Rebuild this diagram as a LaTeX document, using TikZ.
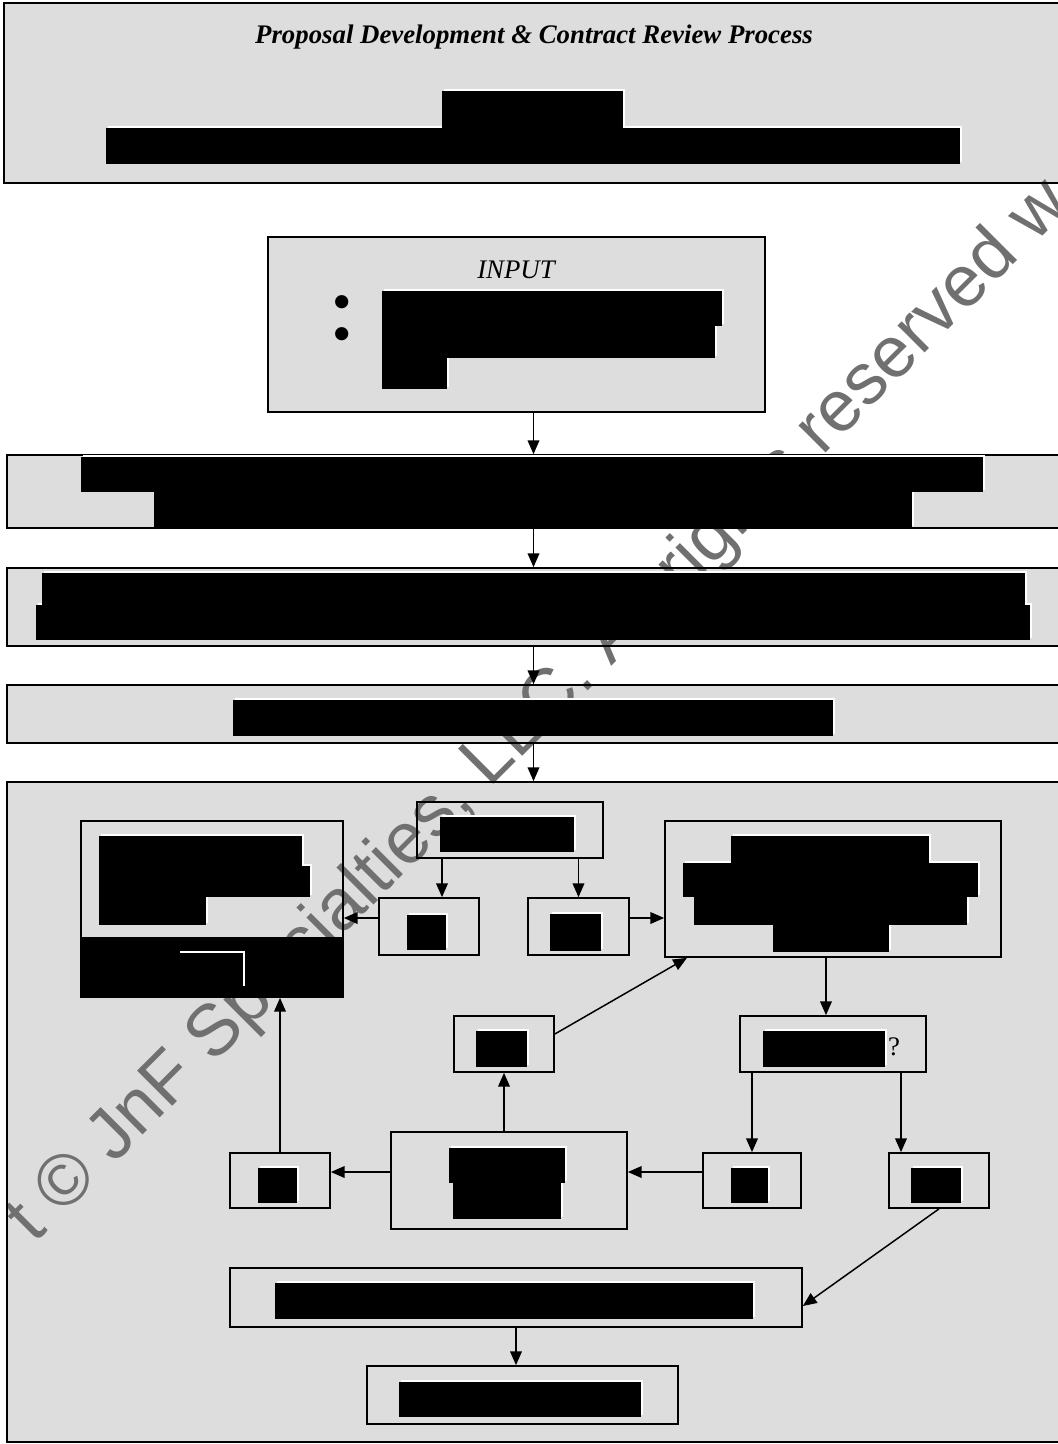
\documentclass[tikz,border=0pt]{standalone}
\usepackage{fontspec}
\setmainfont{Liberation Serif}
\newfontfamily\wmfont{Liberation Sans}
\usetikzlibrary{arrows.meta, fit, backgrounds}
\definecolor{boxgray}{RGB}{221,221,221}
\definecolor{markgray}{RGB}{112,112,112}
\pgfdeclarelayer{background}
\pgfdeclarelayer{wmark}
\pgfsetlayers{background,wmark,main}
% blacked-out text line, with its thin white edge
\newcommand{\redact}[4]{%
  \fill[white] (#1+2,#2-2) rectangle (#3+2,#4-2);
  \fill[black] (#1,#2) rectangle (#3,#4);}

\begin{document}
\begin{tikzpicture}[x=0.47pt, y=-0.47pt,
  box/.style={draw, line width=0.8pt, inner sep=0pt},
  arr/.style={-{Triangle[length=6.5pt, width=5.5pt]}, line width=0.7pt},
  every node/.style={font=\fontsize{12.6pt}{14pt}\selectfont}]
  \useasboundingbox (0,0) rectangle (1057,1444);

  % header
  \node[box, fit={(4,3) (1060,183)}] (hdr) {};
  \node[font=\fontsize{12.6pt}{14pt}\selectfont\bfseries\itshape] (title) at (534,37)
    {Proposal Development \& Contract Review Process};
  \redact{106}{128}{960}{164}
  \redact{442}{91}{623}{128}

  % input
  \node[box, fit={(268,237) (765,412)}] (inp) {};
  \node (inlabel) at (516,270) {\itshape INPUT};
  \node[font=\fontsize{26pt}{26pt}\selectfont] (bula) at (342,308) {\textbullet};
  \node[font=\fontsize{26pt}{26pt}\selectfont] (bulb) at (342,340) {\textbullet};
  \redact{382}{358}{447}{389}
  \redact{382}{326}{715}{358}
  \redact{382}{291}{722}{326}

  % three full width steps
  \node[box, fit={(7,455) (1060,528)}] (prep) {};
  \redact{154}{492}{912}{528}
  \redact{81}{457}{983}{492}
  \node[box, fit={(7,568) (1060,646)}] (draft) {};
  \redact{36}{605}{1030}{640}
  \redact{42}{573}{1025}{605}
  \node[box, fit={(7,685) (1060,743)}] (submit) {};
  \redact{233}{700}{833}{736}

  % review loop
  \node[box, fit={(7,782) (1060,1442)}] (revloop) {};

  \node[box, fit={(81,821) (343,997)}] (records) {};
  \redact{99}{897}{206}{925}
  \redact{99}{866}{310}{897}
  \redact{99}{836}{302}{866}
  \fill[black] (81,937) rectangle (343,997);
  \draw[white, line width=0.6pt] (180,952) -| (244,986);

  \node[box, fit={(417,802) (603,858)}] (kickoff) {};
  \redact{440}{817}{574}{852}
  \node[box, fit={(379,898) (479,955)}] (optno) {};
  \redact{407}{915}{446}{950}
  \node[box, fit={(528,898) (629,955)}] (optyes) {};
  \redact{550}{914}{601}{951}

  \node[box, fit={(665,821) (1001,957)}] (review) {};
  \redact{773}{925}{889}{952}
  \redact{694}{897}{967}{925}
  \redact{683}{863}{978}{897}
  \redact{731}{836}{929}{863}

  \node[box, fit={(454,1016) (554,1072)}] (revise) {};
  \redact{476}{1031}{527}{1067}
  \node[box, fit={(740,1016) (926,1072)}] (decide) {};
  \redact{763}{1031}{885}{1067}
  \node (qmark) at (894,1047) {?};

  \node[box, fit={(391,1132) (627,1229)}] (fixup) {};
  \redact{453}{1183}{561}{1219}
  \redact{449}{1148}{565}{1183}
  \node[box, fit={(230,1153) (330,1208)}] (nob) {};
  \redact{258}{1168}{297}{1203}
  \node[box, fit={(703,1153) (801,1208)}] (nod) {};
  \redact{731}{1168}{768}{1203}
  \node[box, fit={(889,1153) (989,1208)}] (yesd) {};
  \redact{911}{1168}{961}{1203}

  \node[box, fit={(230,1268) (802,1327)}] (award) {};
  \redact{275}{1283}{753}{1319}
  \node[box, fit={(367,1366) (678,1424)}] (closeout) {};
  \redact{399}{1382}{641}{1417}

  % connectors
  \draw[arr] (inp.south -| prep.north) -- (prep.north);
  \draw[arr] (prep.south) -- (draft.north);
  \draw[arr] (draft.south) -- (submit.north);
  \draw[arr] (submit.south) -- (revloop.north);
  \draw[arr] (kickoff.south -| 442,0) -- (optno.north -| 442,0);
  \draw[arr] (kickoff.south -| optyes.north) -- (optyes.north);
  \draw[arr] (optno.west |- 0,918) -- (records.east |- 0,918);
  \draw[arr] (optyes.east |- 0,918) -- (review.west |- 0,918);
  \draw[arr] (review.south -| 826,0) -- (decide.north -| 826,0);
  \draw[arr] (revise.east |- 0,1034) -- (review.south west -| 687,0);
  \draw[arr] (fixup.north -| revise.south) -- (revise.south);
  \draw[arr] (decide.south -| nod.north) -- (nod.north);
  \draw[arr] (decide.south -| 901,0) -- (yesd.north -| 901,0);
  \draw[arr] (nod.west |- 0,1172) -- (fixup.east |- 0,1172);
  \draw[arr] (fixup.west |- 0,1172) -- (nob.east |- 0,1172);
  \draw[arr] (nob.north) -- (records.south -| nob.north);
  \draw[arr] (yesd.south) -- (award.east |- 0,1306);
  \draw[arr] (award.south) -- (closeout.north -| award.south);

  % gray fills under the watermark
  \begin{pgfonlayer}{background}
    \foreach \b in {hdr, inp, prep, draft, submit, revloop}
      \fill[boxgray] (\b.north west) rectangle (\b.south east);
  \end{pgfonlayer}

  % watermark
  \begin{pgfonlayer}{wmark}
    \begin{scope}
      \clip (0,0) rectangle (1057,1444);
      \node[rotate=45, text=markgray, font=\wmfont\fontsize{34pt}{40pt}\selectfont]
        (wmark) at (540,712) {t © JnF Specialties, LLC. All rights reserved w};
    \end{scope}
  \end{pgfonlayer}
\end{tikzpicture}
\end{document}
